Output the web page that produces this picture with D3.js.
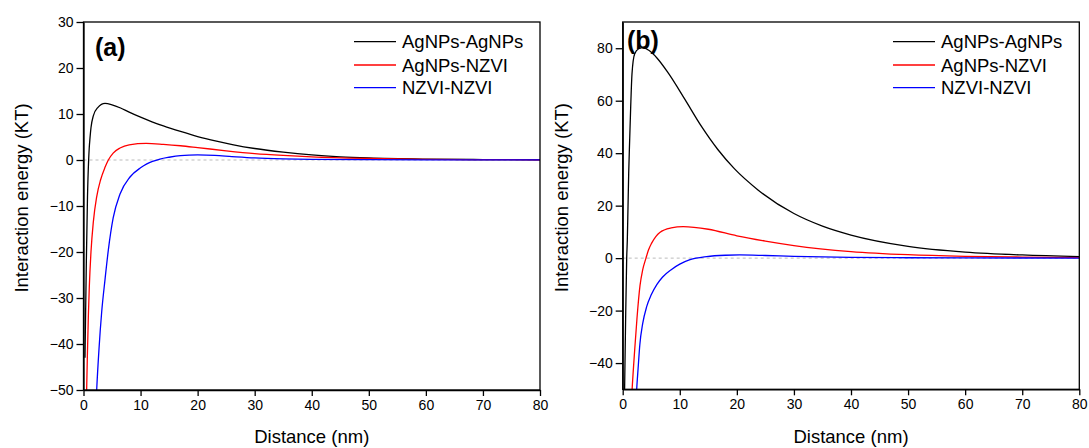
<!DOCTYPE html>
<html>
<head>
<meta charset="utf-8">
<script src="https://cdn.jsdelivr.net/npm/d3@7"></script>
<style>
  body { margin: 0; background: #fff; }
  svg { display: block; font-family: 'Liberation Sans', Arial, sans-serif; }
</style>
</head>
<body>
<div id="chart"></div>
<script>
// data
const seriesNames = ['AgNPs-AgNPs', 'AgNPs-NZVI', 'NZVI-NZVI']
const seriesColors = ['#000000', '#ff0000', '#0000ff']
const xTicks = [0, 10, 20, 30, 40, 50, 60, 70, 80]

// panel (a)
const aTicksY = [-50, -40, -30, -20, -10, 0, 10, 20, 30]
const aBlackX = [0.26, 0.5, 0.7, 0.9, 1.0, 1.14, 1.31, 1.72, 2.5, 3.77, 5, 6.5, 8, 10, 12, 14, 17, 20, 23.3, 26.3, 30, 35, 40, 45, 50, 60, 70, 80]
const aBlackY = [-43, -22, -8, 0, 2.5, 4.8, 7.0, 9.6, 11.4, 12.3, 12.0, 11.3, 10.4, 9.3, 8.3, 7.4, 6.2, 5.1, 4.1, 3.3, 2.5, 1.7, 1.1, 0.7, 0.45, 0.2, 0.1, 0.05]
const aRedX = [0.55, 0.67, 0.85, 1.02, 1.31, 1.72, 2.31, 3.0, 3.77, 4.35, 5.2, 6.4, 8, 11, 14, 17, 20, 25, 30, 35, 40, 50, 60, 70, 80]
const aRedY = [-50, -43, -34, -27.5, -20, -13.5, -8, -4.3, -1.6, 0, 1.5, 2.6, 3.3, 3.6, 3.4, 3.1, 2.7, 2.0, 1.4, 1.0, 0.7, 0.35, 0.15, 0.08, 0.04]
const aBlueX = [2.2, 2.31, 2.72, 3.19, 3.77, 4.35, 5.2, 6.4, 8.15, 10, 11.1, 13.4, 15, 17, 20, 23, 26, 30, 35, 40, 50, 60, 80]
const aBlueY = [-53, -50, -41, -33, -26, -19.6, -12.6, -7.4, -3.7, -1.7, -0.85, 0.2, 0.6, 0.95, 1.1, 1.0, 0.75, 0.45, 0.25, 0.15, 0.06, 0.03, 0.01]

// panel (b)
const bTicksY = [-40, -20, 0, 20, 40, 60, 80]
const bBlackX = [0.3, 0.5, 0.7, 0.81, 0.93, 1.05, 1.22, 1.4, 1.63, 2.1, 2.8, 3.56, 4.5, 6, 8, 10.9, 13.8, 16.7, 19.6, 23.7, 30, 35, 40, 50, 60, 70, 80]
const bBlackY = [-55, -25, 0, 7, 19.6, 32.3, 45, 57.6, 70.3, 77.9, 79.8, 80.2, 79.3, 76.3, 70.5, 60.5, 50.2, 41.3, 34, 26, 17, 12.2, 8.8, 4.5, 2.3, 1.2, 0.6]
const bRedX = [1.5, 1.65, 2.1, 2.5, 3.03, 3.5, 4.08, 4.5, 5.07, 5.8, 6.5, 8.5, 10.6, 15, 20, 25, 30, 40, 50, 60, 70, 80]
const bRedY = [-56, -50, -35, -23, -10.5, -4.5, 0, 3.0, 5.7, 8.2, 9.8, 11.5, 12.0, 11, 8.5, 6.5, 4.8, 2.5, 1.3, 0.7, 0.4, 0.2]
const bBlueX = [2.3, 2.45, 2.7, 3.0, 3.5, 4.2, 5.0, 6.0, 7.0, 8.5, 10, 11.8, 14.7, 18, 20.5, 25, 30, 40, 50, 60, 80]
const bBlueY = [-56, -50, -42, -33, -25, -18.5, -14, -10, -7.2, -4.4, -2.3, -0.6, 0.6, 1.1, 1.2, 1.0, 0.7, 0.3, 0.15, 0.08, 0.03]

const width = 1089
const height = 448

const svg = d3.select('#chart')
  .append('svg')
  .attr('width', width)
  .attr('height', height)

function drawPanel(opts) {
  const { left, right, top, bottom, yDomain, yTicks, series, label, labelPos, legendX, titleX, id } = opts

  const x = d3.scaleLinear().domain([0, 80]).range([left, right])
  const y = d3.scaleLinear().domain(yDomain).range([bottom, top])

  const g = svg.append('g')

  g.append('clipPath')
    .attr('id', `clip-${id}`)
    .append('rect')
    .attr('x', left)
    .attr('y', top)
    .attr('width', right - left)
    .attr('height', bottom - top)

  // zero line
  g.append('line')
    .attr('x1', left)
    .attr('x2', right)
    .attr('y1', y(0))
    .attr('y2', y(0))
    .attr('stroke', '#bbbbbb')
    .attr('stroke-width', 1)
    .attr('stroke-dasharray', '3,3')

  const line = d3.line()
    .x(d => x(d[0]))
    .y(d => y(d[1]))
    .curve(d3.curveMonotoneX)

  g.append('g')
    .attr('clip-path', `url(#clip-${id})`)
    .selectAll('path')
    .data(series)
    .enter()
    .append('path')
    .attr('fill', 'none')
    .attr('stroke', (_, i) => seriesColors[i])
    .attr('stroke-width', 1.3)
    .attr('d', d => line(d3.zip(d.xs, d.ys)))

  // frame
  g.append('rect')
    .attr('x', left)
    .attr('y', top)
    .attr('width', right - left)
    .attr('height', bottom - top)
    .attr('fill', 'none')
    .attr('stroke', '#000')
    .attr('stroke-width', 1.3)

  const xAxis = g.append('g')
    .attr('transform', `translate(0,${bottom})`)
    .call(d3.axisBottom(x).tickValues(xTicks).tickSize(6).tickSizeOuter(0).tickPadding(4))
  const yAxis = g.append('g')
    .attr('transform', `translate(${left},0)`)
    .call(d3.axisLeft(y).tickValues(yTicks).tickSize(7).tickSizeOuter(0).tickPadding(3))

  ;[xAxis, yAxis].forEach(ax => {
    ax.select('.domain').attr('stroke', '#000').attr('stroke-width', 1.3)
    ax.selectAll('.tick line').attr('stroke', '#000').attr('stroke-width', 1.3)
    ax.selectAll('.tick text')
      .attr('fill', '#000')
      .style('font-size', '14px')
      .style('font-family', "'Liberation Sans', Arial, sans-serif")
  })

  // axis titles
  g.append('text')
    .attr('x', (left + right) / 2)
    .attr('y', 443)
    .attr('text-anchor', 'middle')
    .style('font-size', '18.5px')
    .text('Distance (nm)')

  g.append('text')
    .attr('transform', `translate(${titleX},${(top + bottom) / 2 - 8}) rotate(-90)`)
    .attr('text-anchor', 'middle')
    .style('font-size', '18.5px')
    .text('Interaction energy (KT)')

  // panel label
  g.append('text')
    .attr('x', labelPos[0])
    .attr('y', labelPos[1])
    .style('font-size', '25px')
    .style('font-weight', 'bold')
    .text(label)

  // legend
  const rowY = [41.7, 65, 87.7]
  const legend = g.append('g')
  seriesNames.forEach((name, i) => {
    legend.append('line')
      .attr('x1', legendX)
      .attr('x2', legendX + 42)
      .attr('y1', rowY[i])
      .attr('y2', rowY[i])
      .attr('stroke', seriesColors[i])
      .attr('stroke-width', 1.3)
    legend.append('text')
      .attr('x', legendX + 48)
      .attr('y', rowY[i] + 6.5)
      .style('font-size', '18.5px')
      .text(name)
  })
}

drawPanel({
  id: 'a',
  left: 83.5, right: 540, top: 22, bottom: 390,
  yDomain: [-50, 30],
  yTicks: aTicksY,
  series: [
    { xs: aBlackX, ys: aBlackY },
    { xs: aRedX, ys: aRedY },
    { xs: aBlueX, ys: aBlueY },
  ],
  label: '(a)',
  labelPos: [95, 56],
  legendX: 354,
  titleX: 28,
})

drawPanel({
  id: 'b',
  left: 622.7, right: 1079.3, top: 22, bottom: 389.3,
  yDomain: [-50, 90],
  yTicks: bTicksY,
  series: [
    { xs: bBlackX, ys: bBlackY },
    { xs: bRedX, ys: bRedY },
    { xs: bBlueX, ys: bBlueY },
  ],
  label: '(b)',
  labelPos: [627, 49],
  legendX: 893,
  titleX: 568,
})
</script>
</body>
</html>
